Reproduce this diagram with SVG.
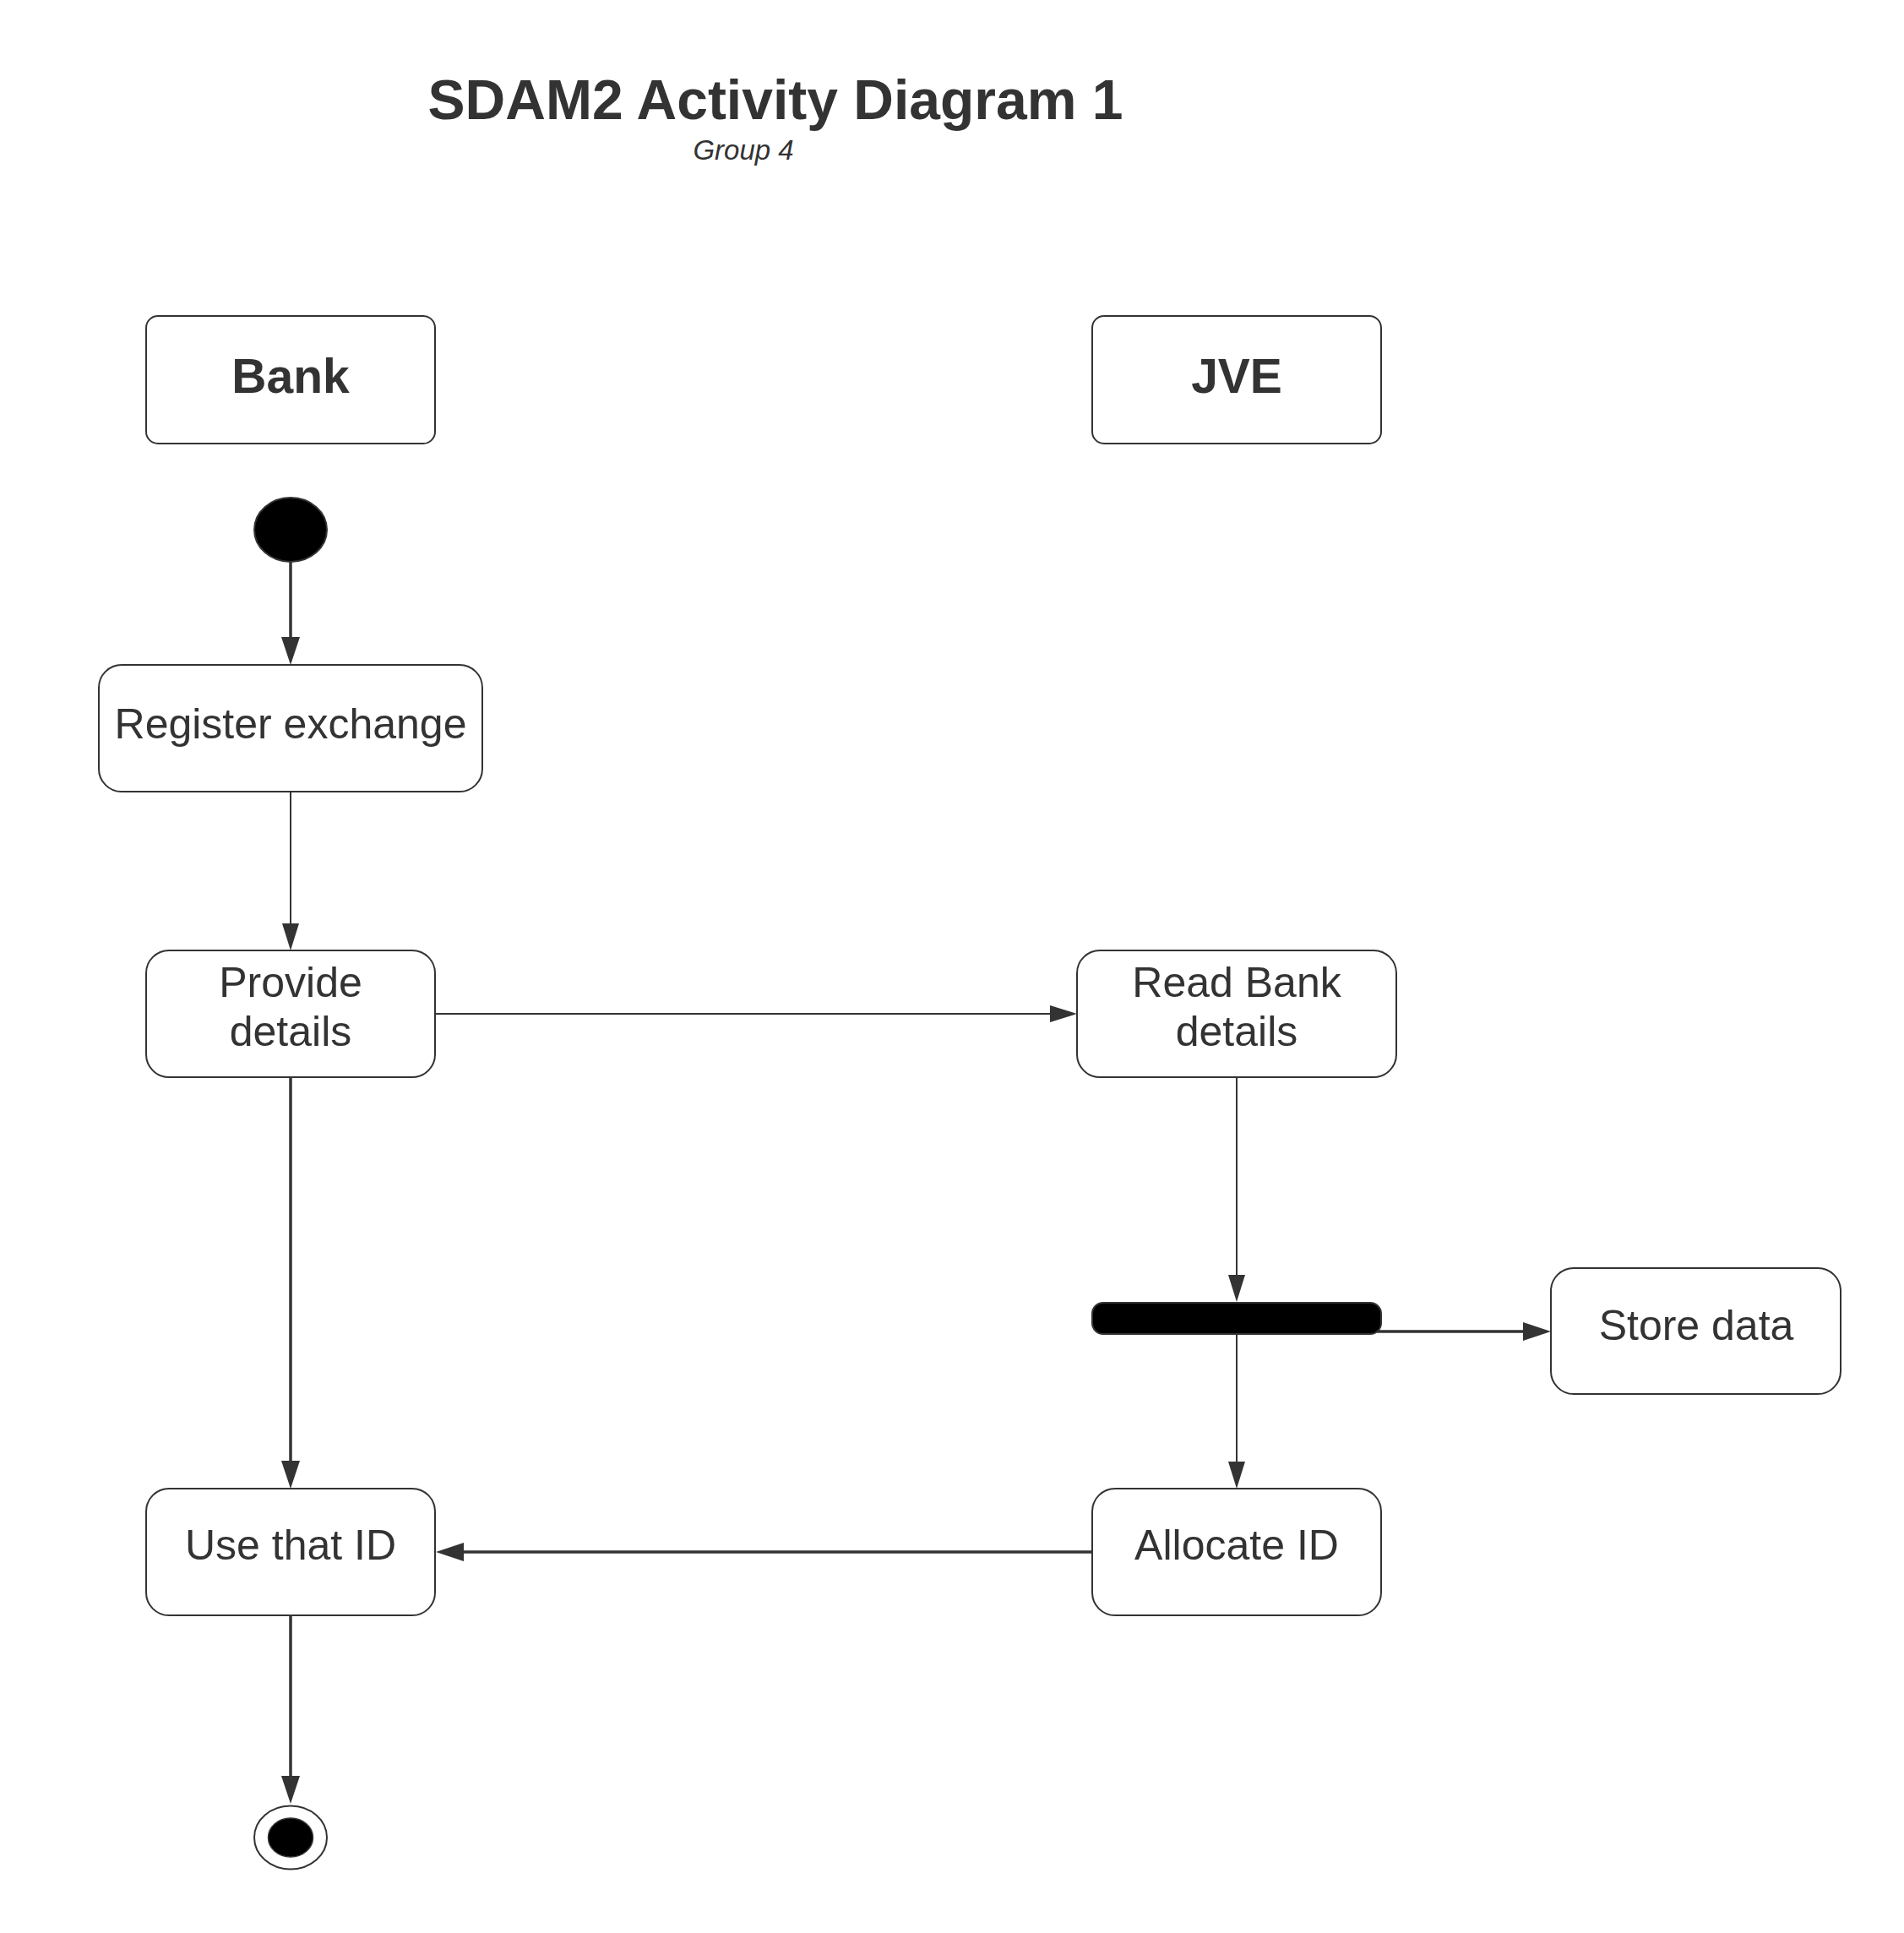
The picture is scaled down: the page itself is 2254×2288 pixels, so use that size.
<svg xmlns="http://www.w3.org/2000/svg" width="2254" height="2288" viewBox="0 0 2254 2288">
<defs>
<style>
.box{fill:#ffffff;stroke:#333333;stroke-width:2}
.lbl{font-family:"Liberation Sans",Arial,sans-serif;font-size:50px;fill:#333333;text-anchor:middle}
.hdr{font-family:"Liberation Sans",Arial,sans-serif;font-size:57px;font-weight:bold;fill:#333333;text-anchor:middle}
.thick{fill:none;stroke:#333333;stroke-width:3.5}
.thin{fill:none;stroke:#333333;stroke-width:2}
</style>
<marker id="ahThick" markerUnits="userSpaceOnUse" markerWidth="33" markerHeight="22" refX="13" refY="11" orient="auto" viewBox="0 0 33 22">
<path d="M0,0 L33,11 L0,22 z" fill="#333333"/>
</marker>
<marker id="ahThin" markerUnits="userSpaceOnUse" markerWidth="32" markerHeight="20" refX="12" refY="10" orient="auto" viewBox="0 0 32 20">
<path d="M0,0 L32,10 L0,20 z" fill="#333333"/>
</marker>
</defs>
<rect width="2254" height="2288" fill="#ffffff"/>
<g id="title">
<text x="918" y="141" font-family="'Liberation Sans',Arial,sans-serif" font-size="66" font-weight="bold" fill="#333333" text-anchor="middle">SDAM2 Activity Diagram 1</text>
<text x="880" y="189" font-family="'Liberation Sans',Arial,sans-serif" font-size="33" font-style="italic" fill="#333333" text-anchor="middle">Group 4</text>
</g>
<g id="connectors">
<line class="thick" x1="344" y1="665" x2="344" y2="767" marker-end="url(#ahThick)"/>
<line class="thin" x1="344" y1="937" x2="344" y2="1105" marker-end="url(#ahThin)"/>
<line class="thin" x1="515" y1="1200" x2="1255" y2="1200" marker-end="url(#ahThin)"/>
<line class="thick" x1="344" y1="1275" x2="344" y2="1742" marker-end="url(#ahThick)"/>
<line class="thin" x1="1464" y1="1275" x2="1464" y2="1521" marker-end="url(#ahThin)"/>
<line class="thick" x1="1630" y1="1576" x2="1816" y2="1576" marker-end="url(#ahThick)"/>
<line class="thin" x1="1464" y1="1579" x2="1464" y2="1742" marker-end="url(#ahThin)"/>
<line class="thick" x1="1292" y1="1837" x2="536" y2="1837" marker-end="url(#ahThick)"/>
<line class="thick" x1="344" y1="1912" x2="344" y2="2115" marker-end="url(#ahThick)"/>
</g>
<g id="lane-bank">
<rect class="box" x="173" y="374" width="342" height="151" rx="14"/>
<text class="hdr" x="344" y="465">Bank</text>
</g>
<g id="lane-jve">
<rect class="box" x="1293" y="374" width="342" height="151" rx="14"/>
<text class="hdr" x="1464" y="465">JVE</text>
</g>
<g id="initial">
<ellipse cx="344" cy="627" rx="43" ry="38" fill="#000000" stroke="#333333" stroke-width="2"/>
</g>
<g id="register-exchange">
<rect class="box" x="117" y="787" width="454" height="150" rx="27"/>
<text class="lbl" x="344" y="874">Register exchange</text>
</g>
<g id="provide-details">
<rect class="box" x="173" y="1125" width="342" height="150" rx="27"/>
<text class="lbl" x="344" y="1180">Provide</text>
<text class="lbl" x="344" y="1238">details</text>
</g>
<g id="read-bank-details">
<rect class="box" x="1275" y="1125" width="378" height="150" rx="27"/>
<text class="lbl" x="1464" y="1180">Read Bank</text>
<text class="lbl" x="1464" y="1238">details</text>
</g>
<g id="fork">
<rect x="1293" y="1542" width="342" height="37" rx="13" fill="#000000" stroke="#333333" stroke-width="2"/>
</g>
<g id="store-data">
<rect class="box" x="1836" y="1501" width="343" height="149" rx="27"/>
<text class="lbl" x="2008" y="1586">Store data</text>
</g>
<g id="allocate-id">
<rect class="box" x="1293" y="1762" width="342" height="150" rx="27"/>
<text class="lbl" x="1464" y="1846">Allocate ID</text>
</g>
<g id="use-that-id">
<rect class="box" x="173" y="1762" width="342" height="150" rx="27"/>
<text class="lbl" x="344" y="1846">Use that ID</text>
</g>
<g id="final">
<ellipse cx="344" cy="2175" rx="43" ry="37.5" fill="#ffffff" stroke="#333333" stroke-width="2"/>
<ellipse cx="344" cy="2175" rx="26.5" ry="23" fill="#000000" stroke="#333333" stroke-width="1.5"/>
</g>
</svg>
